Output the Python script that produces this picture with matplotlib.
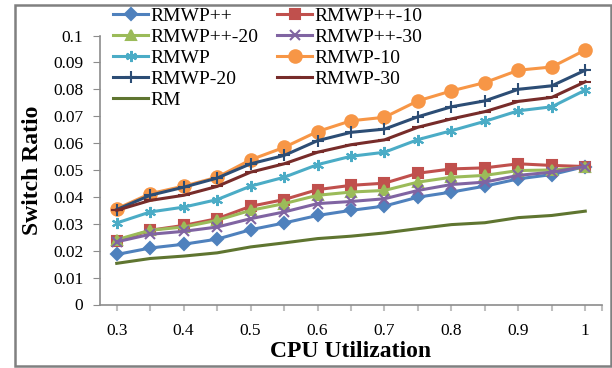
import numpy as np
import matplotlib
matplotlib.use('Agg')
import matplotlib.pyplot as plt
from matplotlib.patches import Rectangle

# CPU utilization (x) and switch ratios
utilization = [0.3, 0.35, 0.4, 0.45, 0.5, 0.55, 0.6, 0.65, 0.7, 0.75, 0.8, 0.85, 0.9, 0.95, 1.0]

rmwp_pp = [0.0186, 0.0210, 0.0224, 0.0243, 0.0278, 0.0303, 0.0331, 0.0350, 0.0366, 0.0399,
           0.0418, 0.0440, 0.0467, 0.0483, 0.0513]
rmwp_pp_10 = [0.0235, 0.0276, 0.0294, 0.0319, 0.0365, 0.0390, 0.0427, 0.0443, 0.0451, 0.0488,
              0.0504, 0.0508, 0.0523, 0.0517, 0.0513]
rmwp_pp_20 = [0.0241, 0.0276, 0.0288, 0.0313, 0.0350, 0.0375, 0.0406, 0.0418, 0.0424, 0.0455,
              0.0473, 0.0480, 0.0498, 0.0500, 0.0510]
rmwp_pp_30 = [0.0233, 0.0261, 0.0272, 0.0288, 0.0319, 0.0344, 0.0375, 0.0383, 0.0393, 0.0424,
              0.0446, 0.0455, 0.0480, 0.0492, 0.0513]
rmwp = [0.0303, 0.0344, 0.0362, 0.0390, 0.0440, 0.0473, 0.0520, 0.0551, 0.0566, 0.0613,
        0.0646, 0.0681, 0.0720, 0.0735, 0.0797]
rmwp_10 = [0.0356, 0.0412, 0.0440, 0.0473, 0.0538, 0.0584, 0.0643, 0.0683, 0.0696, 0.0757,
           0.0794, 0.0825, 0.0871, 0.0883, 0.0946]
rmwp_20 = [0.0353, 0.0406, 0.0436, 0.0470, 0.0523, 0.0554, 0.0609, 0.0640, 0.0652, 0.0698,
           0.0735, 0.0757, 0.0800, 0.0813, 0.0871]
rmwp_30 = [0.0350, 0.0387, 0.0406, 0.0439, 0.0492, 0.0523, 0.0566, 0.0594, 0.0612, 0.0659,
           0.0690, 0.0717, 0.0755, 0.0770, 0.0828]
rm = [0.0153, 0.0171, 0.0180, 0.0192, 0.0214, 0.0229, 0.0245, 0.0254, 0.0266, 0.0282,
      0.0297, 0.0304, 0.0323, 0.0331, 0.0347]

x_labels = ['0.3', '0.4', '0.5', '0.6', '0.7', '0.8', '0.9', '1']

plt.rcParams['font.family'] = ['Liberation Serif', 'DejaVu Serif']

fig = plt.figure(figsize=(6.12, 3.68), dpi=100)
ax = fig.add_axes([100 / 612, 1 - 304.5 / 368, 502 / 612, 269 / 368])

x = np.array(utilization)
lw = 2.2
# (label, data, color, marker, markersize)
series = [
    ('RMWP++', rmwp_pp, '#4F81BD', 'D', 6),
    ('RMWP++-10', rmwp_pp_10, '#C0504D', 's', 7.5),
    ('RMWP++-20', rmwp_pp_20, '#9BBB59', '^', 7.5),
    ('RMWP++-30', rmwp_pp_30, '#8064A2', 'x', 7),
    ('RMWP', rmwp, '#4BACC6', (6, 2, 0), 8),
    ('RMWP-10', rmwp_10, '#F79646', 'o', 9),
    ('RMWP-20', rmwp_20, '#2C4D75', '+', 9),
    ('RMWP-30', rmwp_30, '#772C2A', '_', 8),
    ('RM', rm, '#5F7530', None, 0),
]
handles = {}
for label, ys, color, marker, ms in series:
    h, = ax.plot(x, ys, color=color, lw=lw, marker=marker, markersize=ms,
                 markeredgewidth=1.5, markeredgecolor=color, markerfacecolor=color,
                 label=label)
    handles[label] = h

ax.set_xlim(0.275, 1.025)
ax.set_ylim(0, 0.1)
ax.set_xticks([0.3, 0.4, 0.5, 0.6, 0.7, 0.8, 0.9, 1.0])
ax.set_xticklabels(x_labels)
ax.set_xticks([0.35, 0.45, 0.55, 0.65, 0.75, 0.85, 0.95, 1.025], minor=True)
ax.set_yticks(np.arange(0, 0.1001, 0.01))
ax.set_yticklabels(['0'] + ['%g' % v for v in np.round(np.arange(0.01, 0.1001, 0.01), 2)])

for s in ['top', 'right']:
    ax.spines[s].set_visible(False)
for s in ['left', 'bottom']:
    ax.spines[s].set_color('#8C8C8C')
    ax.spines[s].set_linewidth(1.2)
ax.tick_params(axis='y', direction='out', length=5, color='#8C8C8C', labelsize=12.5, pad=7)
ax.tick_params(axis='x', which='both', direction='out', length=4, color='#BFBFBF', width=1.5,
               labelsize=12.5, pad=9)

ax.set_xlabel('CPU Utilization', fontsize=17, fontweight='bold', labelpad=2)
ax.set_ylabel('Switch Ratio', fontsize=17, fontweight='bold', labelpad=7)

order = ['RMWP++', 'RMWP++-20', 'RMWP', 'RMWP-20', 'RM',
         'RMWP++-10', 'RMWP++-30', 'RMWP-10', 'RMWP-30']
fig.legend([handles[k] for k in order], order, ncol=2, frameon=False,
           loc='upper left', bbox_to_anchor=(113 / 612, 1 - 7 / 368),
           fontsize=14, handlelength=1.8, handletextpad=0.1, columnspacing=1.0,
           labelspacing=0.18, borderpad=0, borderaxespad=0)

# outer chart border
fig.patches.append(Rectangle((15 / 612, 2 / 368), 596 / 612, 361 / 368,
                             transform=fig.transFigure, fill=False,
                             edgecolor='#808080', linewidth=1.8))

fig.savefig('out.png', dpi=100)
